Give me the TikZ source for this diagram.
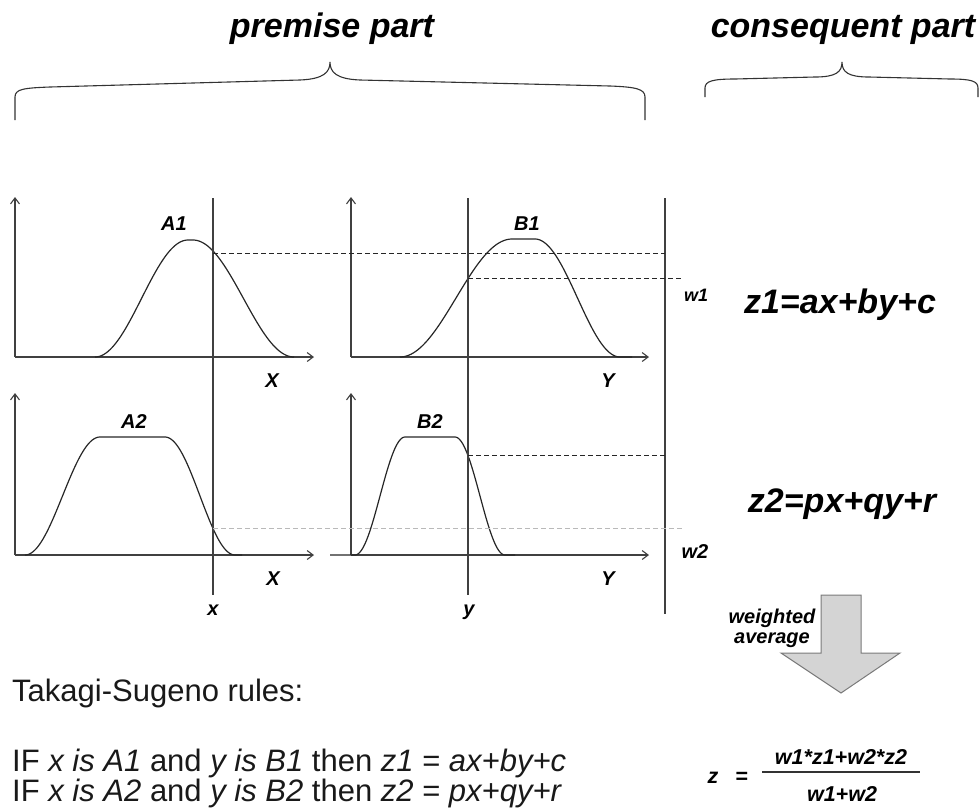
\documentclass[tikz,border=0pt]{standalone}
\usepackage{fontspec}
\setmainfont{Liberation Sans}
\usetikzlibrary{arrows.meta}
\definecolor{axisgray}{HTML}{404040}
\definecolor{arrowfill}{HTML}{D4D4D4}
\definecolor{arrowline}{HTML}{7A7A7A}
\tikzset{
  lbl/.style={inner sep=0pt, anchor=base, text=black, font=\fontsize{20}{22}\selectfont\bfseries\itshape},
  title/.style={inner sep=0pt, anchor=base, text=black, font=\fontsize{34}{38}\selectfont\bfseries\itshape},
  eqn/.style={inner sep=0pt, anchor=base, text=black, font=\fontsize{34}{38}\selectfont\bfseries\itshape},
  rule/.style={inner sep=0pt, anchor=base west, text=black!90, font=\fontsize{31}{30}\selectfont},
  frm/.style={inner sep=0pt, anchor=base, text=black, font=\fontsize{21.5}{24}\selectfont\bfseries\itshape},
  axis/.style={draw=axisgray, line width=1.1pt, -{Straight Barb[length=6pt,width=9pt,line width=1.1pt]}},
  curve/.style={draw=black!85, line width=1.2pt, line join=round},
  vline/.style={draw=axisgray, line width=1.2pt},
  dline/.style={draw=black!85, line width=1.1pt, dash pattern=on 5pt off 3pt},
  gline/.style={draw=gray!55, line width=1.1pt, dash pattern=on 5pt off 3pt},
  bracepath/.style={draw=black!80, line width=1.1pt},
}
\begin{document}
\begin{tikzpicture}[x=1pt,y=-1pt]
\useasboundingbox (0,0) rectangle (980,807);

% titles and braces
\node[title] (tprem) at (332,37) {premise part};
\node[title] (tcons) at (843,37) {consequent part};
\draw[bracepath] (15,120) -- (15,97) .. controls (15,89) and (24,88) .. (50,87)
  -- (300,80) .. controls (324,79) and (330,72) .. (330,62)
  .. controls (330,72) and (336,79) .. (360,80)
  -- (610,86) .. controls (636,87) and (645,89) .. (645,97) -- (645,120);
\draw[bracepath] (705,97) -- (705,88) .. controls (705,81) and (713,79) .. (735,79)
  -- (815,77) .. controls (836,77) and (842,72) .. (842,62)
  .. controls (842,72) and (848,77) .. (869,77)
  -- (950,79) .. controls (971,79) and (978,81) .. (978,88) -- (978,97);

% axes coordinates
\coordinate (oA1) at (15,357);  \coordinate (yA1) at (15,197);  \coordinate (xA1) at (314,357);
\coordinate (oB1) at (351,357); \coordinate (yB1) at (351,197); \coordinate (xB1) at (649,357);
\coordinate (oA2) at (15,555);  \coordinate (yA2) at (15,393);  \coordinate (xA2) at (314,555);
\coordinate (oB2) at (351,555); \coordinate (yB2) at (351,393); \coordinate (xB2) at (649,555);
\draw[axis] (oA1) -- (yA1); \draw[axis] (oA1) -- (xA1);
\draw[axis] (oB1) -- (yB1); \draw[axis] (oB1) -- (xB1);
\draw[axis] (oA2) -- (yA2); \draw[axis] (oA2) -- (xA2);
\draw[axis] (oB2) -- (yB2); \draw[axis] (oB2) -- (xB2);

% membership curves
\draw[curve] plot[domain=95:188,samples=50] (\x,{357-117*(1-cos((\x-95)/93*180))/2})
  -- (193,240)
  -- plot[domain=193:294,samples=50] (\x,{357-117*(1+cos((\x-193)/101*180))/2});
\draw[curve] plot[domain=400:512,samples=50] (\x,{357-118*(1-cos((\x-400)/112*180))/2})
  -- (535,239)
  -- plot[domain=535:620,samples=50] (\x,{357-118*(1+cos((\x-535)/85*180))/2}) -- (632,357);
\draw[curve] plot[domain=25:100,samples=50] (\x,{555-118*(1-cos((\x-25)/75*180))/2})
  -- (165,437)
  -- plot[domain=165:235,samples=50] (\x,{555-118*(1+cos((\x-165)/70*180))/2}) -- (242,555);
\draw[curve] (330,555) -- plot[domain=355:405,samples=40] (\x,{555-118*(1-cos((\x-355)/50*180))/2})
  -- (455,437)
  -- plot[domain=455:505,samples=40] (\x,{555-118*(1+cos((\x-455)/50*180))/2}) -- (515,555);

% input lines
\coordinate (xtop) at (213,198); \coordinate (xbot) at (213,595);
\coordinate (ytop) at (468,198); \coordinate (ybot) at (468,595);
\coordinate (rtop) at (665,198); \coordinate (rbot) at (665,614);
\draw[vline] (xtop) -- (xbot);
\draw[vline] (ytop) -- (ybot);
\draw[vline] (rtop) -- (rbot);

% intersection coordinates
\coordinate (iA1) at (213,253.6); \coordinate (eA1) at (665,253.6);
\coordinate (iB1) at (468,278.5); \coordinate (eB1) at (683,278.5);
\coordinate (iA2) at (213,528.5); \coordinate (eA2) at (683,528.5);
\coordinate (iB2) at (468,455.6); \coordinate (eB2) at (665,455.6);
\draw[dline] (iA1) -- (eA1);
\draw[dline] (iB1) -- (eB1);
\draw[gline] (iA2) -- (eA2);
\draw[dline] (iB2) -- (eB2);

% labels
\node[lbl] (lA1) at (174,230) {A1};
\node[lbl] (lB1) at (527,230) {B1};
\node[lbl] (lA2) at (134,428) {A2};
\node[lbl] (lB2) at (430,428) {B2};
\node[lbl] (lX1) at (272,387) {X};
\node[lbl] (lY1) at (608,387) {Y};
\node[lbl] (lX2) at (273,585) {X};
\node[lbl] (lY2) at (608,585) {Y};
\node[lbl] (lx) at (213,615) {x};
\node[lbl] (ly) at (469,615) {y};
\node[lbl,font=\fontsize{18}{20}\selectfont\bfseries\itshape] (lw1) at (696,301) {w1};
\node[lbl] (lw2) at (695,558) {w2};

% consequents
\node[eqn] (z1) at (840,313) {z1=ax+by+c};
\node[eqn] (z2) at (842,512) {z2=px+qy+r};

% weighted average arrow
\draw[fill=arrowfill, draw=arrowline, line width=1pt, line join=miter]
  (821,595) -- (861,595) -- (861,653) -- (900,653) -- (841,693) -- (781,653) -- (821,653) -- cycle;
\node[lbl] (wa1) at (772,623) {weighted};
\node[lbl] (wa2) at (772,643) {average};

% rules text
\node[rule] (ts) at (12,701) {Takagi-Sugeno rules:};
\node[rule] (r1) at (12,771) {IF \textit{x is A1} and \textit{y is B1} then \textit{z1} = \textit{ax+by+c}};
\node[rule] (r2) at (12,801) {IF \textit{x is A2} and \textit{y is B2} then \textit{z2} = \textit{px+qy+r}};

% final formula
\node[frm] (fz) at (713,783) {z};
\node[frm, font=\fontsize{21.5}{24}\selectfont\bfseries] (feq) at (742,783) {=};
\node[frm] (fnum) at (841,764) {w1*z1+w2*z2};
\node[frm] (fden) at (842,801) {w1+w2};
\coordinate (barL) at (762,772); \coordinate (barR) at (920,772);
\draw[draw=black!80, line width=1.2pt] (barL) -- (barR);
\end{tikzpicture}
\end{document}
